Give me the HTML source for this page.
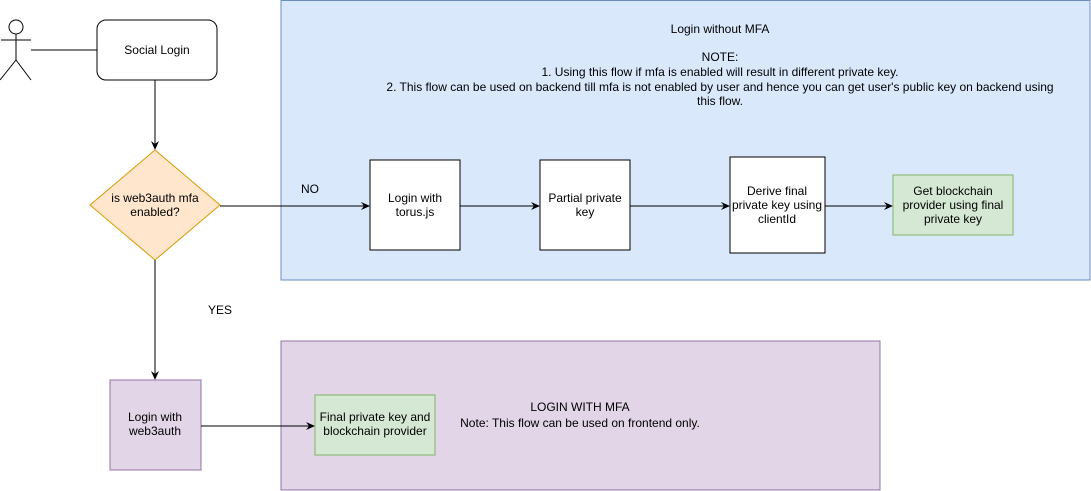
<!DOCTYPE html>
<html><head><style>
body{margin:0;background:#fff;}
svg{display:block;font-family:"Liberation Sans",Arial,sans-serif;}
text{font-size:12px;fill:#000;}
</style></head><body>
<svg width="1091" height="491" viewBox="0 0 1091 491" xmlns="http://www.w3.org/2000/svg">
<defs><marker id="a" markerWidth="10" markerHeight="10" refX="8" refY="5" orient="auto" markerUnits="userSpaceOnUse"><path d="M0,1 L9,5 L0,9 L3,5 Z" fill="#000"/></marker></defs>
<rect x="281" y="0.5" width="809" height="279.5" fill="#dae8fc" stroke="#6c8ebf"/>
<rect x="281" y="341" width="599" height="149" fill="#e1d5e7" stroke="#9673a6"/>
<circle cx="16" cy="27" r="7" fill="#fff" stroke="#000"/>
<path d="M16,34 V60 M1,40 H31 M16,60 L0,80 M16,60 L31,80" stroke="#000" fill="none"/>
<line x1="31" y1="50" x2="97" y2="50" stroke="#000"/>
<rect x="97" y="20" width="120" height="60" rx="9" fill="#fff" stroke="#000"/>
<text x="157" y="54" text-anchor="middle">Social Login</text>
<line x1="155" y1="80" x2="155" y2="149" stroke="#000" marker-end="url(#a)"/>
<polygon points="155,150 220,205 155,260 90,205" fill="#ffe6cc" stroke="#d79b00"/>
<text x="155" y="202" text-anchor="middle">is web3auth mfa</text>
<text x="155" y="216" text-anchor="middle">enabled?</text>
<line x1="220" y1="206" x2="369" y2="206" stroke="#000" marker-end="url(#a)"/>
<text x="310" y="193" text-anchor="middle">NO</text>
<rect x="370" y="160" width="90" height="90" fill="#fff" stroke="#000"/>
<text x="415" y="202" text-anchor="middle">Login with</text>
<text x="415" y="216" text-anchor="middle">torus.js</text>
<line x1="460" y1="206" x2="539" y2="206" stroke="#000" marker-end="url(#a)"/>
<rect x="540" y="160" width="90" height="90" fill="#fff" stroke="#000"/>
<text x="585" y="202" text-anchor="middle">Partial private</text>
<text x="585" y="216" text-anchor="middle">key</text>
<line x1="630" y1="206" x2="729" y2="206" stroke="#000" marker-end="url(#a)"/>
<rect x="730" y="157" width="95" height="96" fill="#fff" stroke="#000"/>
<text x="777" y="195" text-anchor="middle">Derive final</text>
<text x="777" y="209" text-anchor="middle">private key using</text>
<text x="777" y="223" text-anchor="middle">clientId</text>
<line x1="825" y1="206" x2="892" y2="206" stroke="#000" marker-end="url(#a)"/>
<rect x="893" y="175" width="120" height="60" fill="#d5e8d4" stroke="#82b366"/>
<text x="953" y="195" text-anchor="middle">Get blockchain</text>
<text x="953" y="209" text-anchor="middle">provider using final</text>
<text x="953" y="223" text-anchor="middle">private key</text>
<text x="720" y="33" text-anchor="middle">Login without MFA</text>
<text x="720" y="61" text-anchor="middle">NOTE:</text>
<text x="720" y="76" text-anchor="middle">1. Using this flow if mfa is enabled will result in different private key.</text>
<text x="720" y="91" text-anchor="middle">2. This flow can be used on backend till mfa is not enabled by user and hence you can get user's public key on backend using</text>
<text x="720" y="105" text-anchor="middle">this flow.</text>
<line x1="155" y1="260" x2="155" y2="379" stroke="#000" marker-end="url(#a)"/>
<text x="220" y="314" text-anchor="middle">YES</text>
<rect x="110" y="380" width="91" height="90" fill="#e1d5e7" stroke="#9673a6"/>
<text x="155" y="421" text-anchor="middle">Login with</text>
<text x="155" y="435" text-anchor="middle">web3auth</text>
<line x1="201" y1="426" x2="314" y2="426" stroke="#000" marker-end="url(#a)"/>
<rect x="315" y="395" width="120" height="60" fill="#d5e8d4" stroke="#82b366"/>
<text x="375" y="421" text-anchor="middle">Final private key and</text>
<text x="375" y="435" text-anchor="middle">blockchain provider</text>
<text x="580" y="411" text-anchor="middle">LOGIN WITH MFA</text>
<text x="580" y="427" text-anchor="middle">Note: This flow can be used on frontend only.</text>
</svg>
</body></html>
